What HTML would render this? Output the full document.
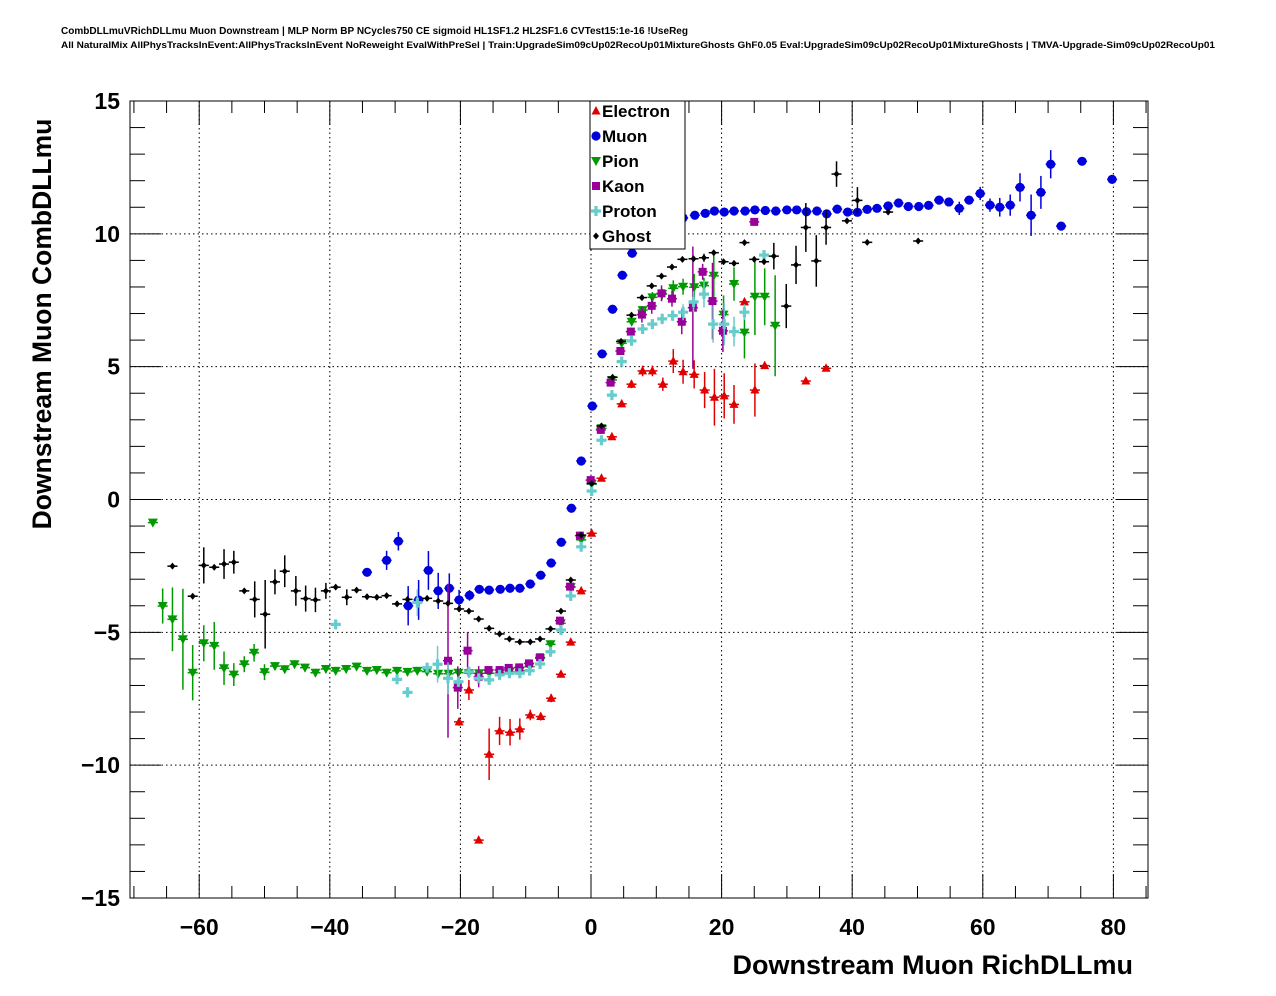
<!DOCTYPE html>
<html><head><meta charset="utf-8">
<style>
html,body{margin:0;padding:0;background:#fff;}
svg{display:block;font-family:"Liberation Sans",Arial,sans-serif;}
</style></head>
<body>
<svg id="chart" width="1276" height="996" viewBox="0 0 1276 996">
<text x="61" y="34" font-size="10" font-weight="bold" textLength="627" lengthAdjust="spacingAndGlyphs">CombDLLmuVRichDLLmu Muon Downstream | MLP Norm BP NCycles750 CE sigmoid HL1SF1.2 HL2SF1.6 CVTest15:1e-16 !UseReg</text>
<text x="61" y="48" font-size="9" font-weight="bold" textLength="1154" lengthAdjust="spacingAndGlyphs">All NaturalMix AllPhysTracksInEvent:AllPhysTracksInEvent NoReweight EvalWithPreSel | Train:UpgradeSim09cUp02RecoUp01MixtureGhosts GhF0.05 Eval:UpgradeSim09cUp02RecoUp01MixtureGhosts | TMVA-Upgrade-Sim09cUp02RecoUp01</text>
<g id="grid"></g>
<g id="axes"></g>
<g id="marks"></g>
<rect x="130" y="101" width="1018" height="797" fill="none" stroke="#000" stroke-width="1"/>
<text x="1133" y="974" font-size="27" font-weight="bold" text-anchor="end">Downstream Muon RichDLLmu</text>
<text transform="translate(51,324) rotate(-90)" font-size="26.5" font-weight="bold" text-anchor="middle">Downstream Muon CombDLLmu</text>
<g id="legend"></g>
</svg>
<script>
const xTicks=[-60,-40,-20,0,20,40,60,80];
const yTicks=[-15,-10,-5,0,5,10,15];
const seriesNames=["Electron","Muon","Pion","Kaon","Proton","Ghost"];

const electronX=[-20.2,-18.7,-17.2,-15.6,-14.0,-12.4,-10.9,-9.3,-7.7,-6.1,-4.6,-3.1,-1.5,0.1,1.6,3.2,4.7,6.2,7.9,9.4,11.0,12.6,14.1,15.8,17.4,18.9,20.4,21.9,23.5,25.1,26.6,32.9,36.0];
const electronY=[-8.37,-7.17,-12.82,-9.59,-8.71,-8.76,-8.64,-8.11,-8.17,-7.48,-6.58,-5.37,-3.44,-1.27,0.8,2.36,3.6,4.34,4.84,4.84,4.34,5.21,4.81,4.71,4.12,3.85,3.9,3.58,7.44,4.12,5.04,4.46,4.94];
const electronErr=[0.15,0.38,0.1,0.97,0.53,0.5,0.4,0.2,0.15,0.15,0.1,0.1,0.1,0.1,0.1,0.1,0.1,0.15,0.2,0.2,0.25,0.45,0.45,0.53,0.68,1.07,0.85,0.73,0.1,1.0,0.1,0.1,0.1];

const muonX=[-34.3,-31.3,-29.5,-28.0,-26.4,-24.9,-23.4,-21.7,-20.2,-18.6,-17.1,-15.6,-13.9,-12.4,-10.9,-9.3,-7.7,-6.1,-4.55,-3.0,-1.5,0.2,1.7,3.3,4.8,6.3,7.8,9.4,10.9,12.5,14.1,15.9,17.5,18.9,20.4,21.9,23.6,25.1,26.7,28.3,30.0,31.5,33.0,34.6,36.1,37.7,39.3,40.8,42.3,43.8,45.5,47.1,48.6,50.2,51.7,53.3,54.8,56.4,57.9,59.6,61.1,62.6,64.2,65.7,67.4,68.9,70.4,72.0,75.2,79.8];
const muonY=[-2.74,-2.29,-1.57,-4.0,-3.78,-2.67,-3.44,-3.34,-3.78,-3.61,-3.38,-3.41,-3.38,-3.34,-3.34,-3.18,-2.85,-2.39,-1.61,-0.33,1.45,3.52,5.48,7.16,8.44,9.27,9.75,10.1,10.3,10.45,10.6,10.7,10.77,10.86,10.82,10.86,10.86,10.9,10.88,10.86,10.9,10.9,10.83,10.86,10.75,10.93,10.82,10.81,10.92,10.96,11.05,11.16,11.03,11.03,11.07,11.27,11.2,10.96,11.27,11.52,11.08,11.0,11.08,11.75,10.7,11.56,12.62,10.29,12.73,12.05];
const muonErr=[0.1,0.36,0.35,0.74,0.75,0.73,0.68,0.56,0.38,0.2,0.1,0.1,0.1,0.1,0.1,0.1,0.1,0.1,0.1,0.1,0.1,0.1,0.1,0.1,0.1,0.1,0.1,0.1,0.1,0.1,0.1,0.1,0.1,0.1,0.1,0.1,0.1,0.1,0.1,0.1,0.1,0.1,0.1,0.1,0.1,0.1,0.1,0.1,0.1,0.1,0.1,0.1,0.1,0.1,0.1,0.1,0.15,0.25,0.15,0.25,0.25,0.35,0.4,0.53,0.78,0.62,0.53,0.1,0.1,0.1];

const pionX=[-67.1,-65.6,-64.1,-62.5,-61.0,-59.3,-57.7,-56.2,-54.7,-53.1,-51.6,-50.0,-48.4,-46.9,-45.4,-43.8,-42.2,-40.6,-39.1,-37.5,-35.9,-34.3,-32.8,-31.3,-29.7,-28.1,-26.6,-25.1,-23.4,-21.8,-20.3,-18.7,-17.15,-15.6,-14.0,-12.45,-10.9,-9.4,-7.8,-6.2,-4.64,-3.1,-1.5,0.1,1.6,3.2,4.7,6.23,7.9,9.4,10.9,12.6,14.1,15.8,17.3,18.8,20.3,21.9,23.5,25.1,26.6,28.2];
const pionY=[-0.87,-4.01,-4.51,-5.26,-6.52,-5.41,-5.51,-6.35,-6.59,-6.2,-5.77,-6.5,-6.27,-6.39,-6.2,-6.33,-6.52,-6.38,-6.45,-6.38,-6.29,-6.45,-6.42,-6.52,-6.45,-6.49,-6.45,-6.48,-6.56,-6.56,-6.52,-6.54,-6.54,-6.54,-6.54,-6.49,-6.44,-6.29,-5.98,-5.45,-4.66,-3.3,-1.52,0.58,2.68,4.5,5.88,6.69,7.13,7.61,7.73,7.95,8.01,7.99,8.05,8.42,6.96,8.11,6.28,7.63,7.63,6.54];
const pionErr=[0.1,0.66,1.2,1.9,1.04,0.68,0.9,0.63,0.43,0.3,0.33,0.3,0.15,0.15,0.15,0.15,0.15,0.15,0.15,0.15,0.15,0.15,0.15,0.15,0.15,0.15,0.15,0.15,0.15,0.15,0.15,0.15,0.15,0.15,0.15,0.15,0.15,0.15,0.15,0.15,0.15,0.15,0.15,0.15,0.15,0.15,0.15,0.15,0.15,0.2,0.2,0.3,0.3,0.5,0.3,0.9,0.72,0.63,0.97,1.44,1.07,1.9];

const kaonX=[-21.9,-20.4,-18.9,-17.2,-15.7,-14.0,-12.6,-11.0,-9.5,-7.8,-4.75,-3.2,-1.7,-0.05,1.5,3.0,4.5,6.1,7.8,9.3,10.8,12.4,13.9,15.6,17.1,18.6,20.2,25.0];
const kaonY=[-6.07,-7.08,-5.69,-6.67,-6.42,-6.42,-6.34,-6.32,-6.17,-5.94,-4.56,-3.28,-1.36,0.73,2.62,4.4,5.59,6.32,6.96,7.29,7.76,7.56,6.69,7.22,8.57,7.47,6.35,10.45];
const kaonErr=[2.9,0.8,0.7,0.4,0.15,0.15,0.15,0.15,0.15,0.15,0.15,0.15,0.15,0.15,0.15,0.15,0.15,0.15,0.3,0.3,0.3,0.3,0.47,2.3,0.3,1.44,0.8,0.1];

const protonX=[-39.1,-29.7,-28.1,-26.6,-25.1,-23.5,-21.9,-20.3,-18.7,-17.2,-15.6,-14.0,-12.5,-10.9,-9.4,-7.8,-6.2,-4.6,-3.1,-1.5,0.1,1.6,3.2,4.7,6.2,7.9,9.4,10.9,12.5,14.1,15.7,17.3,18.7,20.4,21.9,23.5,26.5];
const protonY=[-4.7,-6.77,-7.26,-3.88,-6.33,-6.2,-6.73,-6.86,-6.49,-6.73,-6.79,-6.6,-6.54,-6.54,-6.44,-6.19,-5.73,-4.91,-3.63,-1.78,0.32,2.23,3.93,5.19,5.97,6.42,6.6,6.8,6.92,7.05,7.44,7.73,6.6,6.6,6.32,7.05,9.2];
const protonErr=[0.1,0.15,0.2,0.5,0.15,0.69,0.6,0.2,0.2,0.15,0.15,0.15,0.15,0.15,0.15,0.15,0.15,0.15,0.15,0.15,0.15,0.15,0.15,0.15,0.15,0.15,0.15,0.2,0.2,0.3,0.4,0.5,0.7,0.8,0.56,0.3,0.1];

const ghostX=[-64.1,-61.0,-59.3,-57.7,-56.2,-54.7,-53.1,-51.5,-49.9,-48.4,-46.9,-45.2,-43.7,-42.2,-40.6,-39.1,-37.4,-35.9,-34.3,-32.8,-31.3,-29.7,-28.1,-25.1,-23.4,-21.9,-20.2,-18.7,-17.2,-15.6,-14.0,-12.5,-10.9,-9.3,-7.8,-6.2,-4.6,-3.1,-1.5,0.1,1.6,3.3,4.6,6.2,7.8,9.3,10.8,12.4,14.0,15.7,17.3,18.8,20.3,21.9,23.5,25.0,26.5,28.0,29.9,31.4,32.9,34.5,36.0,37.6,39.2,40.8,42.3,45.5,50.1];
const ghostY=[-2.51,-3.64,-2.48,-2.55,-2.43,-2.36,-3.44,-3.76,-4.32,-3.1,-2.7,-3.44,-3.73,-3.78,-3.44,-3.3,-3.68,-3.41,-3.66,-3.68,-3.62,-3.93,-3.76,-3.72,-3.82,-3.91,-4.12,-4.2,-4.5,-4.85,-5.06,-5.25,-5.36,-5.36,-5.25,-4.87,-4.2,-3.03,-1.34,0.6,2.77,4.6,5.95,6.94,7.6,8.04,8.41,8.75,9.04,9.06,9.1,9.29,8.95,8.89,9.67,9.04,8.95,9.16,7.28,8.83,10.24,8.98,10.24,12.25,10.49,11.26,9.68,10.82,9.73];
const ghostErr=[0.1,0.1,0.68,0.1,0.56,0.43,0.1,0.68,1.29,0.47,0.6,0.56,0.49,0.46,0.3,0.1,0.3,0.1,0.1,0.1,0.1,0.1,0.1,0.1,0.1,0.1,0.1,0.1,0.1,0.1,0.1,0.1,0.1,0.1,0.1,0.1,0.1,0.1,0.1,0.1,0.1,0.1,0.1,0.1,0.1,0.1,0.1,0.1,0.1,0.1,0.15,0.1,0.1,0.1,0.1,0.1,0.1,0.5,0.83,0.72,0.92,0.97,0.65,0.48,0.1,0.5,0.1,0.1,0.1];

const NS="http://www.w3.org/2000/svg";
const L=130,R=1148,T=101,B=898,XMIN=-70.6,XMAX=85.3,YMIN=-15,YMAX=15;
function sx(v){return L+(v-XMIN)/(XMAX-XMIN)*(R-L);}
function sy(v){return B-(v-YMIN)/(YMAX-YMIN)*(B-T);}
function mk(tag,attrs,parent){const e=document.createElementNS(NS,tag);for(const k in attrs)e.setAttribute(k,attrs[k]);parent.appendChild(e);return e;}
const grid=document.getElementById('grid'),axes=document.getElementById('axes'),marks=document.getElementById('marks'),legend=document.getElementById('legend');

xTicks.forEach(t=>{
  const x=sx(t);
  const g=mk('line',{x1:x,x2:x,y1:T,y2:B,stroke:'#000','stroke-width':1,'stroke-dasharray':'1.5,3'},grid);
  
  
  const tl=mk('text',{x:x,y:935,'font-size':23,'font-weight':'bold','text-anchor':'middle'},axes);
  
  
  tl.textContent=(t<0?'\u2212'+(-t):String(t));
});
for(let v=-70;v<=85;v+=5){const x=sx(v);const len=(v%20===0)?24:12;
  const tk=mk('line',{x1:x,x2:x,y1:B,y2:B-len,stroke:'#000','stroke-width':1},axes);
  
  
  const tk2=mk('line',{x1:x,x2:x,y1:T,y2:T+len,stroke:'#000','stroke-width':1},axes);
  
  
}
yTicks.forEach(t=>{
  const y=sy(t);
  if(t>YMIN&&t<YMAX){const g=mk('line',{x1:L,x2:R,y1:y,y2:y,stroke:'#000','stroke-width':1,'stroke-dasharray':'1.5,3'},grid);
  
  }
  const tl=mk('text',{x:120,y:y+8,'font-size':23,'font-weight':'bold','text-anchor':'end'},axes);
  
  
  tl.textContent=(t<0?'\u2212'+(-t):String(t));
});
for(let v=-15;v<=15;v+=1){const y=sy(v);const len=(v%5===0)?31:15;
  const tk=mk('line',{x1:L,x2:L+len,y1:y,y2:y,stroke:'#000','stroke-width':1},axes);
  
  
  const tk2=mk('line',{x1:R,x2:R-len,y1:y,y2:y,stroke:'#000','stroke-width':1},axes);
  
  
}

function marker(kind,color,x,y,parent){
  let e;
  if(kind==='tri-up')e=mk('polygon',{points:`${x},${y-5} ${x-4.5},${y+3.5} ${x+4.5},${y+3.5}`,fill:color},parent);
  else if(kind==='circle')e=mk('circle',{cx:x,cy:y,r:4.6,fill:color},parent);
  else if(kind==='tri-down')e=mk('polygon',{points:`${x-5},${y-4} ${x+5},${y-4} ${x},${y+5}`,fill:color},parent);
  else if(kind==='square')e=mk('rect',{x:x-4,y:y-4,width:8,height:8,fill:color},parent);
  else if(kind==='cross')e=mk('path',{d:`M${x-1.6},${y-5}h3.2v3.4h3.4v3.2h-3.4v3.4h-3.2v-3.4h-3.4v-3.2h3.4z`,fill:color},parent);
  else e=mk('polygon',{points:`${x},${y-3.5} ${x+3},${y} ${x},${y+3.5} ${x-3},${y}`,fill:color},parent);
  return e;
}
const series=[
 {name:'electron',kind:'tri-up',color:'#e00000',X:electronX,Y:electronY,E:electronErr},
 {name:'muon',kind:'circle',color:'#0000dd',X:muonX,Y:muonY,E:muonErr},
 {name:'pion',kind:'tri-down',color:'#009a00',X:pionX,Y:pionY,E:pionErr},
 {name:'kaon',kind:'square',color:'#990099',X:kaonX,Y:kaonY,E:kaonErr},
 {name:'proton',kind:'cross',color:'#66cccc',X:protonX,Y:protonY,E:protonErr},
 {name:'ghost',kind:'diamond',color:'#000000',X:ghostX,Y:ghostY,E:ghostErr}
];
series.forEach(s=>{
  const g=mk('g',{},marks);
  
  
  s.X.forEach((xv,i)=>{
    const x=sx(xv),y=sy(s.Y[i]);
    const eh=mk('line',{x1:sx(xv-0.77),x2:sx(xv+0.77),y1:y,y2:y,stroke:s.color,'stroke-width':1.5},g);
    
    
    const ev=mk('line',{x1:x,x2:x,y1:sy(s.Y[i]-s.E[i]),y2:sy(s.Y[i]+s.E[i]),stroke:s.color,'stroke-width':1.5},g);
    
    
    const m=marker(s.kind,s.color,x,y,g);
    
    
  });
});
const lb=mk('rect',{x:590,y:101,width:95,height:148,fill:'#fff',stroke:'#000','stroke-width':1},legend);


series.forEach((s,i)=>{
  const y=111+25*i;
  const m=marker(s.kind,s.color,596,y,legend);
  
  
  const t=mk('text',{x:602,y:y+6,'font-size':17,'font-weight':'bold'},legend);
  
  
  t.textContent=seriesNames[i];
});
</script>
</body></html>
